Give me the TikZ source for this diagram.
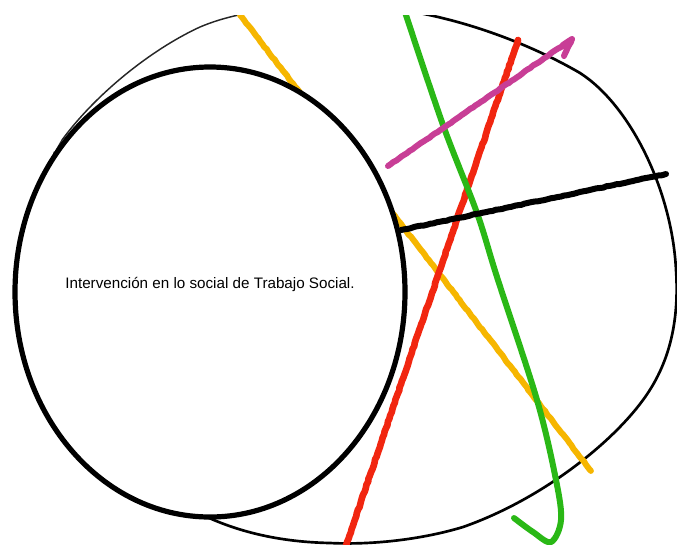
\documentclass[tikz,border=0pt]{standalone}
\usepackage{fontspec}
\setmainfont{Liberation Sans}
\usepackage{xcolor}
\usepackage{tikz}
\usetikzlibrary{calc}
\usetikzlibrary{arrows.meta, positioning, decorations.pathmorphing}

\definecolor{crayonOrange}{RGB}{246,182,0}
\definecolor{crayonGreen}{RGB}{42,184,22}
\definecolor{crayonRed}{RGB}{241,38,16}
\definecolor{crayonPink}{RGB}{200,62,150}

\tikzset{
  crayon/.style={line width=4.5pt, line cap=round, line join=round},
  rough/.style={crayon, decorate,
    decoration={random steps, segment length=2.5pt, amplitude=0.3pt}},
  outer/.style={line width=2pt, black},
  faint/.style={line width=1.1pt, black!85},
  inner/.style={line width=3.9pt, black, fill=white}
}

\begin{document}
\begin{tikzpicture}[x=0.75pt, y=-0.75pt]
  \useasboundingbox (0,0) rectangle (677,544);
  \begin{scope}
  \clip (0,15) rectangle (677,544);

  % big outline, the top left part is lighter
  \draw[faint] (62,140) .. controls (95,95) and (150,50) .. (200,27)
    .. controls (240,10) and (290,6) .. (350,6);
  \draw[faint, line width=0.9pt] (55,152) -- (62,140);
  \draw[outer] (350,6) .. controls (430,6) and (520,38) .. (580,73)
    .. controls (630,105) and (672,190) .. (676,270)
    .. controls (680,330) and (665,370) .. (643,400)
    .. controls (610,445) and (540,500) .. (463,527)
    .. controls (420,540) and (370,545) .. (330,543)
    .. controls (280,542) and (240,532) .. (207,517)
    .. controls (100,470) and (40,210) .. (55,152);

  % orange, partly hidden
  \coordinate (O1) at (240,15);
  \coordinate (O2) at (591,471);
  \draw[rough, crayonOrange] (O1) -- (O2);

  % small ellipse and its text
  \draw[inner] (210,292) ellipse [x radius=195, y radius=225];
  \node[font=\fontsize{11.4}{13}\selectfont] (label) at (210,284)
    {Intervención en lo social de Trabajo Social.};

  \coordinate (R1) at (518,40);
  \coordinate (R2) at (346,546);
  \draw[rough, crayonRed, line width=5pt] (R1) -- (R2);

  \draw[crayon, crayonGreen] plot[smooth, tension=0.55] coordinates {
    (405,12) (443,125) (477,213) (497,277) (537,400) (556,480)
    (561,520) (551,542) (533,532) (514,518)};

  \coordinate (M1) at (388,166);
  \coordinate (M2) at (572,39);
  \coordinate (M3) at (564,56);
  \draw[rough, crayonPink] (M1) -- (M2) -- (M3);

  \coordinate (B1) at (401,230);
  \coordinate (B2) at (666,174);
  \draw[rough, black] (B1) -- (B2);
  \end{scope}
\end{tikzpicture}
\end{document}
